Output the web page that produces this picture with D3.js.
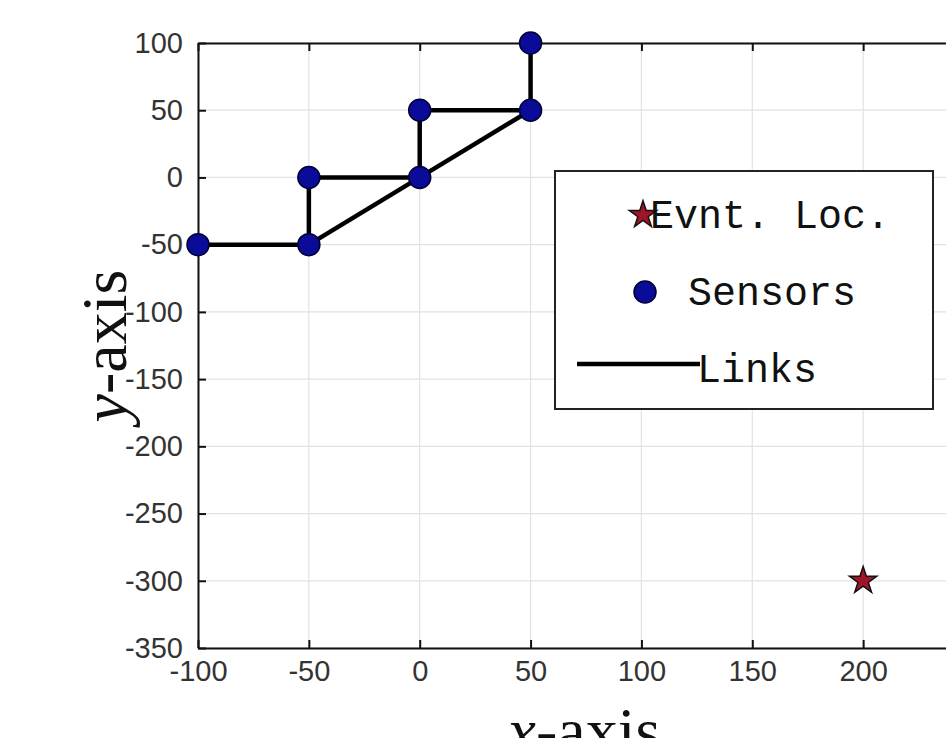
<!DOCTYPE html>
<html>
<head>
<meta charset="utf-8">
<script src="https://cdn.jsdelivr.net/npm/d3@7"></script>
<style>
  body { margin: 0; background: #fff; overflow: hidden; }
</style>
</head>
<body>
<script>
// sensor positions
const sensorX = [-100, -50, -50, 0, 0, 50, 50];
const sensorY = [-50, -50, 0, 0, 50, 50, 100];
// links as index pairs into the sensor arrays
const linkFrom = [0, 1, 2, 1, 3, 3, 4, 5];
const linkTo   = [1, 2, 3, 3, 5, 4, 5, 6];
// event location
const eventX = [200];
const eventY = [-300];
// axis ticks
const xTicks = [-100, -50, 0, 50, 100, 150, 200, 250];
const yTicks = [100, 50, 0, -50, -100, -150, -200, -250, -300, -350];
const legendLabels = ["Evnt. Loc.", "Sensors", "Links"];

function drawChart() {
  var w = 946, h = 738;
  var left = 198, top = 43, bottom = 648;
  var right = 974;

  var xScale = d3.scaleLinear().domain([-100, 250]).range([left, right]);
  var yScale = d3.scaleLinear().domain([-350, 100]).range([bottom, top]);

  var svg = d3.select("body").append("svg")
    .attr("width", w).attr("height", h);

  // grid
  svg.append("g").selectAll("line").data(xTicks).enter().append("line")
    .attr("x1", d => xScale(d)).attr("x2", d => xScale(d))
    .attr("y1", top).attr("y2", bottom)
    .attr("stroke", "#e2e2e2").attr("stroke-width", 1.2);
  svg.append("g").selectAll("line").data(yTicks).enter().append("line")
    .attr("y1", d => yScale(d)).attr("y2", d => yScale(d))
    .attr("x1", left).attr("x2", right)
    .attr("stroke", "#e2e2e2").attr("stroke-width", 1.2);

  // axes (ticks inward, labels outside), plain hyphen for negatives
  var fmt = d => String(d);
  var xAxis = d3.axisBottom(xScale).tickValues(xTicks).tickFormat(fmt).tickSizeInner(-8).tickSizeOuter(0).tickPadding(16);
  var yAxis = d3.axisLeft(yScale).tickValues(yTicks).tickFormat(fmt).tickSizeInner(-8).tickSizeOuter(0).tickPadding(15);
  var xTop = d3.axisTop(xScale).tickValues(xTicks).tickSizeInner(-8).tickSizeOuter(0).tickFormat("");

  var gx = svg.append("g").attr("transform", "translate(0," + bottom + ")").call(xAxis);
  var gy = svg.append("g").attr("transform", "translate(" + left + ",0)").call(yAxis);
  var gt = svg.append("g").attr("transform", "translate(0," + top + ")").call(xTop);
  [gx, gy, gt].forEach(g => {
    g.select(".domain").attr("stroke", "#111").attr("stroke-width", 2);
    g.selectAll(".tick line").attr("stroke", "#111").attr("stroke-width", 2);
    g.selectAll(".tick text")
      .attr("fill", "#333")
      .attr("font-family", "Liberation Sans, Arial, sans-serif")
      .attr("font-size", "29px");
  });
  gx.selectAll(".tick text").attr("dy", "0.6em");

  // links
  svg.append("g").selectAll("line").data(linkFrom).enter().append("line")
    .attr("x1", (d, i) => xScale(sensorX[d]))
    .attr("y1", (d, i) => yScale(sensorY[d]))
    .attr("x2", (d, i) => xScale(sensorX[linkTo[i]]))
    .attr("y2", (d, i) => yScale(sensorY[linkTo[i]]))
    .attr("stroke", "#000").attr("stroke-width", 4.5);

  // sensors
  svg.append("g").selectAll("circle").data(sensorX).enter().append("circle")
    .attr("cx", d => xScale(d))
    .attr("cy", (d, i) => yScale(sensorY[i]))
    .attr("r", 11)
    .attr("fill", "#0b0b9a")
    .attr("stroke", "#000033").attr("stroke-width", 1.5);

  // event location star
  var star = d3.symbol().type(d3.symbolStar).size(230);
  svg.append("g").selectAll("path").data(eventX).enter().append("path")
    .attr("d", star)
    .attr("transform", (d, i) => "translate(" + xScale(d) + "," + yScale(eventY[i]) + ")")
    .attr("fill", "#a0142a").attr("stroke", "#111").attr("stroke-width", 1.5);

  // legend
  var lg = svg.append("g");
  lg.append("rect")
    .attr("x", 555).attr("y", 171).attr("width", 378).attr("height", 238)
    .attr("fill", "#fff").attr("stroke", "#222").attr("stroke-width", 2);
  lg.append("path").attr("d", star)
    .attr("transform", "translate(643,215)")
    .attr("fill", "#a0142a").attr("stroke", "#111").attr("stroke-width", 1.5);
  lg.append("circle").attr("cx", 645).attr("cy", 292).attr("r", 11)
    .attr("fill", "#0b0b9a").attr("stroke", "#000033").attr("stroke-width", 1.5);
  lg.append("line").attr("x1", 577).attr("x2", 700).attr("y1", 364).attr("y2", 364)
    .attr("stroke", "#000").attr("stroke-width", 4.5);
  var legX = [650, 688, 697];
  var legY = [228, 305, 382];
  lg.selectAll("text").data(legendLabels).enter().append("text")
    .text(d => d)
    .attr("x", (d, i) => legX[i])
    .attr("y", (d, i) => legY[i])
    .attr("font-family", "Liberation Mono, Courier New, monospace")
    .attr("font-size", "40px")
    .attr("fill", "#111");

  // axis labels
  var yl = svg.append("text")
    .attr("transform", "translate(126,346) rotate(-90)")
    .attr("text-anchor", "middle")
    .attr("font-family", "Liberation Serif, Times New Roman, serif")
    .attr("font-size", "64px")
    .attr("fill", "#111");
  yl.append("tspan").attr("font-style", "italic").text("y");
  yl.append("tspan").text("-axis");

  var xl = svg.append("text")
    .attr("x", 584).attr("y", 752)
    .attr("text-anchor", "middle")
    .attr("font-family", "Liberation Serif, Times New Roman, serif")
    .attr("font-size", "64px")
    .attr("fill", "#111");
  xl.append("tspan").attr("font-style", "italic").text("x");
  xl.append("tspan").text("-axis");
}

window.onload = function() {
  drawChart();
};
</script>
</body>
</html>
